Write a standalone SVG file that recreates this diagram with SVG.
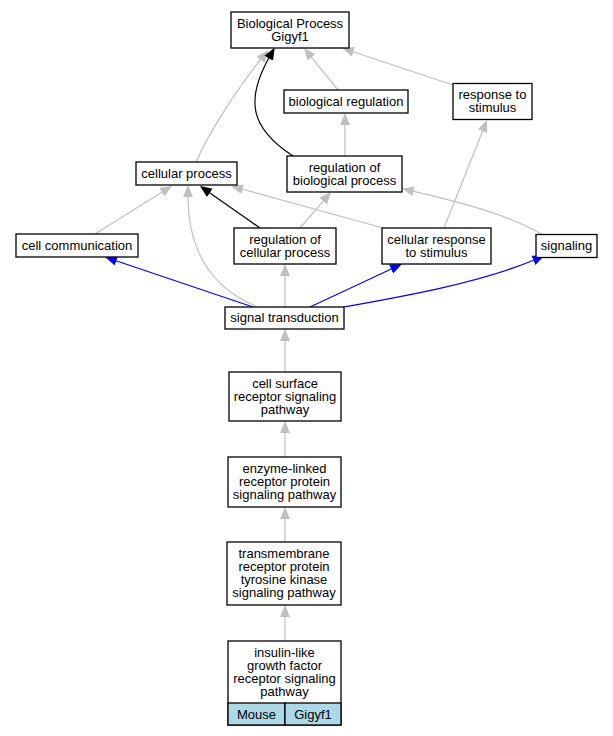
<svg xmlns="http://www.w3.org/2000/svg" width="613" height="736" viewBox="0 0 613 736">
<style>
.n rect{fill:#fff;stroke:#000;stroke-width:1.3}
.n rect.band{fill:#add8e6}
.n text{font-family:"Liberation Sans",Arial,sans-serif;font-size:13px;fill:#000;text-anchor:middle}
.e path{fill:none;stroke-width:1.2}
.g{stroke:#c0c0c0}
.k{stroke:#000}
.b{stroke:#0000ff}
</style>
<defs>
<marker id="ag" markerUnits="userSpaceOnUse" markerWidth="12" markerHeight="12" refX="0" refY="0" orient="auto" viewBox="-2 -6 12 12"><path d="M-2,-5 L10,0 L-2,5 Z" fill="#c0c0c0"/></marker>
<marker id="ak" markerUnits="userSpaceOnUse" markerWidth="12" markerHeight="12" refX="0" refY="0" orient="auto" viewBox="-2 -6 12 12"><path d="M-2,-5 L10,0 L-2,5 Z" fill="#000"/></marker>
<marker id="ab" markerUnits="userSpaceOnUse" markerWidth="12" markerHeight="12" refX="0" refY="0" orient="auto" viewBox="-2 -6 12 12"><path d="M-2,-5 L10,0 L-2,5 Z" fill="#0000ff"/></marker>
</defs>
<rect width="613" height="736" fill="#fff"/>
<g id="edges" class="e">
<path class="g" marker-end="url(#ag)" d="M196,162 C210,130 240,85 262,58"/>
<path class="g" marker-end="url(#ag)" d="M338,90 L310.3,55.8"/>
<path class="g" marker-end="url(#ag)" d="M453,85 L351.5,51.2"/>
<path class="g" marker-end="url(#ag)" d="M345,156 L345,123"/>
<path class="g" marker-end="url(#ag)" d="M444,228 L483.3,129.3"/>
<path class="g" marker-end="url(#ag)" d="M543,235 C510,215 460,202 411.6,190.8"/>
<path class="g" marker-end="url(#ag)" d="M383,228 L240.6,188.7"/>
<path class="g" marker-end="url(#ag)" d="M95,234 L163.5,191.3"/>
<path class="g" marker-end="url(#ag)" d="M258,307 C215,290 188,255 188,195"/>
<path class="g" marker-end="url(#ag)" d="M300,228 L324.5,199.6"/>
<path class="g" marker-end="url(#ag)" d="M285,307 L285,274"/>
<path class="g" marker-end="url(#ag)" d="M285,372 L285,339"/>
<path class="g" marker-end="url(#ag)" d="M285,457 L285,431"/>
<path class="g" marker-end="url(#ag)" d="M285,542 L285,517"/>
<path class="g" marker-end="url(#ag)" d="M285,641 L285,615"/>
<path class="k" marker-end="url(#ak)" d="M260,228 L208.2,191.7"/>
<path class="k" marker-end="url(#ak)" d="M293,156 C250,128 245,100 269.7,56.5"/>
<path class="b" marker-end="url(#ab)" d="M253,307 L114.5,260.2"/>
<path class="b" marker-end="url(#ab)" d="M310,307 L392.9,268.2"/>
<path class="b" marker-end="url(#ab)" d="M344,307 C400,297 480,283 535.3,259.5"/>
</g>
<g id="bp" class="n"><rect x="231" y="12" width="118" height="36"/><text x="290" y="27.5">Biological Process</text><text x="290" y="40.5">Gigyf1</text></g>
<g id="bioreg" class="n"><rect x="284" y="90" width="124" height="23"/><text x="346" y="105.5">biological regulation</text></g>
<g id="resp" class="n"><rect x="453" y="83.5" width="79" height="36"/><text x="492.5" y="99">response to</text><text x="492.5" y="112">stimulus</text></g>
<g id="regbio" class="n"><rect x="287" y="156" width="115" height="36"/><text x="344.5" y="171.5">regulation of</text><text x="344.5" y="184.5">biological process</text></g>
<g id="cellproc" class="n"><rect x="136" y="162" width="101" height="23"/><text x="186.5" y="177.5">cellular process</text></g>
<g id="cellcomm" class="n"><rect x="16" y="234" width="122" height="23"/><text x="77" y="249.5">cell communication</text></g>
<g id="regcell" class="n"><rect x="234" y="228" width="102" height="36"/><text x="285" y="243.5">regulation of</text><text x="285" y="256.5">cellular process</text></g>
<g id="cellresp" class="n"><rect x="382" y="228" width="109" height="36"/><text x="436.5" y="243.5">cellular response</text><text x="436.5" y="256.5">to stimulus</text></g>
<g id="signaling" class="n"><rect x="536" y="234.5" width="61" height="23"/><text x="566.5" y="250">signaling</text></g>
<g id="sigtrans" class="n"><rect x="225" y="307" width="119" height="22"/><text x="284.5" y="322">signal transduction</text></g>
<g id="cellsurf" class="n"><rect x="229" y="372" width="112" height="49"/><text x="285" y="387.5">cell surface</text><text x="285" y="400.5">receptor signaling</text><text x="285" y="413.5">pathway</text></g>
<g id="enzyme" class="n"><rect x="228" y="457" width="113" height="50"/><text x="284.5" y="473">enzyme-linked</text><text x="284.5" y="486">receptor protein</text><text x="284.5" y="499">signaling pathway</text></g>
<g id="rtk" class="n"><rect x="227" y="542" width="114" height="63"/><text x="284" y="558">transmembrane</text><text x="284" y="571">receptor protein</text><text x="284" y="584">tyrosine kinase</text><text x="284" y="597">signaling pathway</text></g>
<g id="igf" class="n"><rect x="228" y="641" width="113" height="84"/><text x="284.5" y="656.5">insulin-like</text><text x="284.5" y="669.5">growth factor</text><text x="284.5" y="682.5">receptor signaling</text><text x="284.5" y="695.5">pathway</text>
<rect class="band" x="228" y="703" width="57" height="22"/><rect class="band" x="285" y="703" width="56" height="22"/><text x="256.5" y="718.5">Mouse</text><text x="313" y="718.5">Gigyf1</text></g>
</svg>
